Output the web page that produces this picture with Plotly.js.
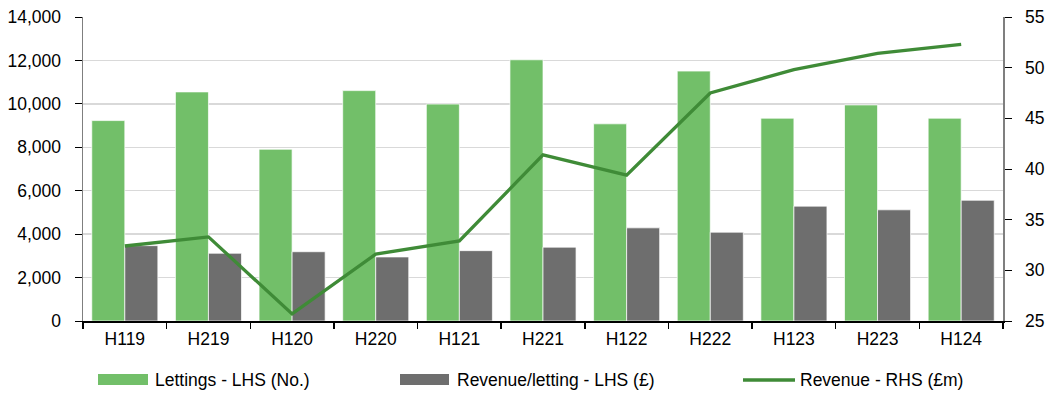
<!DOCTYPE html>
<html>
<head>
<meta charset="utf-8">
<script src="https://cdn.plot.ly/plotly-3.0.1.min.js"></script>
<style>
  html, body { margin: 0; padding: 0; background: #fff; }
  #chart { width: 1050px; height: 394px; }
</style>
</head>
<body>
<div id="chart"></div>
<script>
// Half-year periods
const periods = ['H119', 'H219', 'H120', 'H220', 'H121', 'H221', 'H122', 'H222', 'H123', 'H223', 'H124'];

// Number of lettings (left axis)
const lettings = [9230, 10550, 7910, 10610, 9990, 12030, 9080, 11510, 9340, 9950, 9340];

// Revenue per letting, £ (left axis)
const revenuePerLetting = [3470, 3120, 3190, 2950, 3240, 3400, 4290, 4090, 5290, 5120, 5560];

// Revenue, £m (right axis)
const revenue = [32.4, 33.3, 25.7, 31.6, 32.9, 41.4, 39.4, 47.5, 49.8, 51.4, 52.3];

const seriesNames = ['Lettings - LHS (No.)', 'Revenue/letting - LHS (£)', 'Revenue - RHS (£m)'];

const GREEN = '#72BF69';
const GREY = '#6E6E6E';
const LINE = '#3F8B37';
const FONT = 'Liberation Sans, Arial, sans-serif';
const FS = 17.5;

const W = 1050, H = 394;
const M = { l: 83, r: 47, t: 17, b: 73 };
const plotW = W - M.l - M.r, plotH = H - M.t - M.b;
const px = x => (x - M.l) / plotW;
const py = y => (H - M.b - y) / plotH;

const traces = [
  {
    type: 'bar', name: seriesNames[0], x: periods, y: lettings,
    marker: { color: GREEN, line: { color: 'rgba(255,255,255,0.7)', width: 1 } },
    showlegend: false, hoverinfo: 'x+y'
  },
  {
    type: 'bar', name: seriesNames[1], x: periods, y: revenuePerLetting,
    marker: { color: GREY, line: { color: 'rgba(255,255,255,0.7)', width: 1 } },
    showlegend: false, hoverinfo: 'x+y'
  },
  {
    type: 'scatter', mode: 'lines', name: seriesNames[2], x: periods, y: revenue,
    yaxis: 'y2', line: { color: LINE, width: 3.3 },
    showlegend: false, hoverinfo: 'x+y'
  }
];

// Hand-built legend row beneath the plot
const legendRowY = 380;
const shapes = [
  { type: 'rect', xref: 'paper', yref: 'paper',
    x0: px(98), x1: px(148), y0: py(374), y1: py(385),
    fillcolor: GREEN, line: { width: 0 } },
  { type: 'rect', xref: 'paper', yref: 'paper',
    x0: px(400), x1: px(449), y0: py(374), y1: py(385),
    fillcolor: GREY, line: { width: 0 } },
  { type: 'line', xref: 'paper', yref: 'paper',
    x0: px(743), x1: px(795), y0: py(legendRowY), y1: py(legendRowY),
    line: { color: LINE, width: 3.3 } }
];
const legendTextX = [155, 457, 800];
const annotations = seriesNames.map((name, i) => ({
  xref: 'paper', yref: 'paper', x: px(legendTextX[i]), y: py(legendRowY),
  xanchor: 'left', yanchor: 'middle', showarrow: false, text: name,
  xshift: -2,
  font: { family: FONT, size: FS, color: '#000' }
}));

const layout = {
  width: W, height: H,
  margin: M,
  paper_bgcolor: '#fff', plot_bgcolor: '#fff',
  font: { family: FONT, size: FS, color: '#000' },
  barmode: 'group', bargap: 0.21, bargroupgap: 0,
  showlegend: false,
  xaxis: {
    type: 'category',
    showline: true, linecolor: '#000', linewidth: 1.5,
    ticks: 'outside', tickson: 'boundaries', ticklen: 6, tickcolor: '#000', tickwidth: 1.5,
    showgrid: false, ticklabelstandoff: 1,
    tickfont: { family: FONT, size: FS, color: '#000' }
  },
  yaxis: {
    range: [0, 14000], tickvals: [0, 2000, 4000, 6000, 8000, 10000, 12000, 14000],
    tickformat: ',d',
    showline: true, linecolor: '#7f7f7f', linewidth: 1.5,
    ticks: 'outside', ticklen: 7, tickcolor: '#000', tickwidth: 1,
    showgrid: true, gridcolor: '#d9d9d9', gridwidth: 1.5,
    zeroline: false, ticklabelstandoff: 10,
    tickfont: { family: FONT, size: FS, color: '#000' }
  },
  yaxis2: {
    overlaying: 'y', side: 'right',
    range: [25, 55], tickvals: [25, 30, 35, 40, 45, 50, 55],
    showline: true, linecolor: '#7f7f7f', linewidth: 1.5,
    ticks: 'outside', ticklen: 7, tickcolor: '#000', tickwidth: 1,
    showgrid: false, zeroline: false, ticklabelstandoff: 10,
    tickfont: { family: FONT, size: FS, color: '#000' }
  },
  shapes: shapes,
  annotations: annotations
};

Plotly.newPlot('chart', traces, layout, { displayModeBar: false, staticPlot: true });
</script>
</body>
</html>
